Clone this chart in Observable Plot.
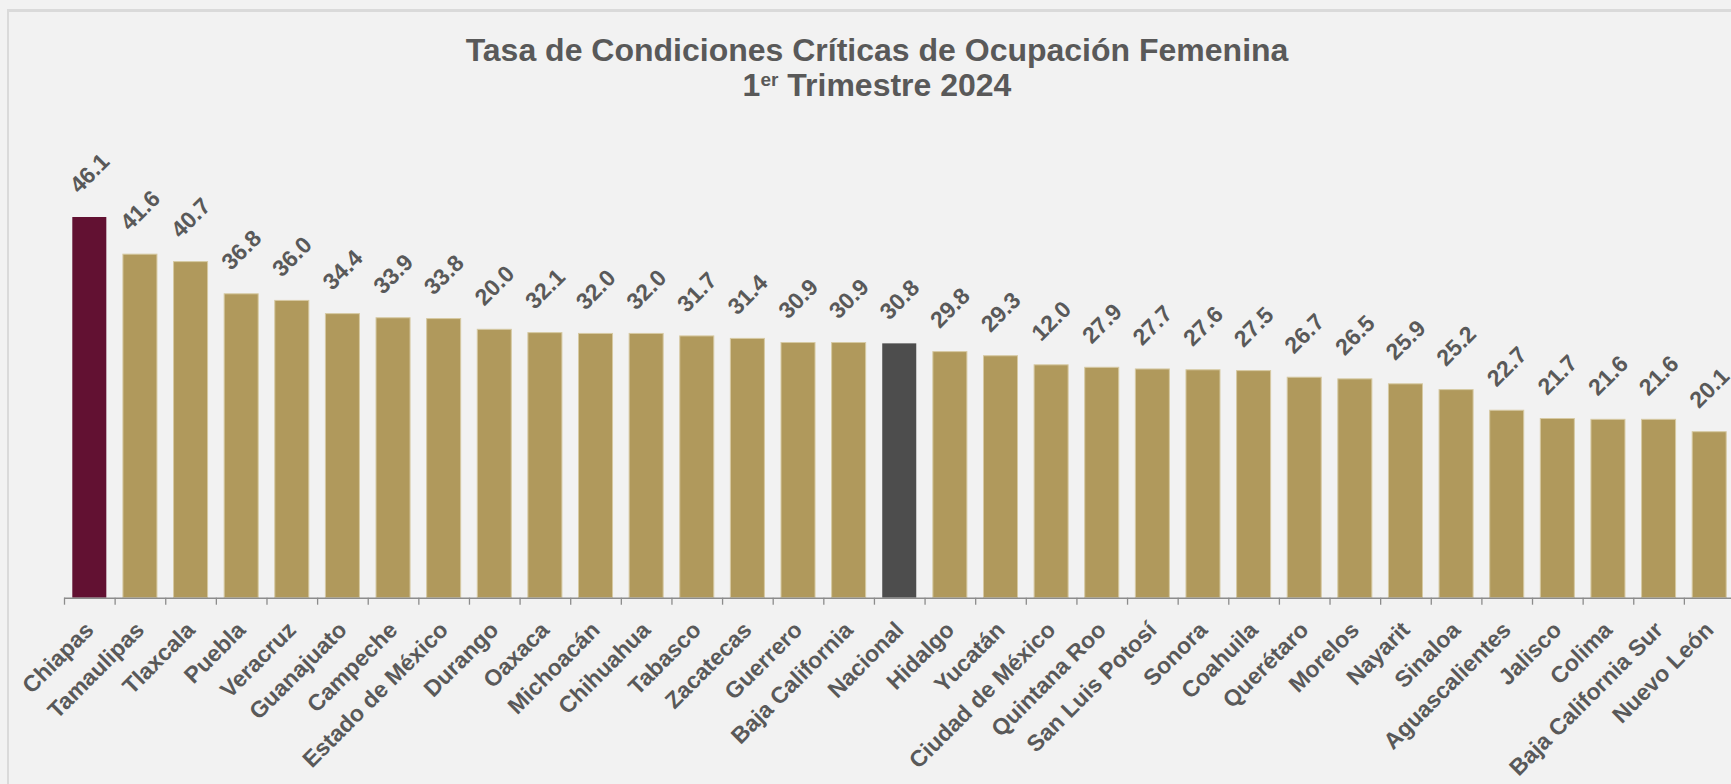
<!DOCTYPE html>
<html>
<head>
<meta charset="utf-8">
<script src="https://cdn.jsdelivr.net/npm/d3@7"></script>
<script src="https://cdn.jsdelivr.net/npm/@observablehq/plot@0.6"></script>
<style>
  html, body { margin: 0; padding: 0; background: #f2f2f2; overflow: hidden; }
  body { width: 1731px; height: 784px; position: relative; font-family: "Liberation Sans", Arial, sans-serif; }
  #frame { position: absolute; left: 7px; top: 9px; right: -10px; bottom: -10px; border-left: 2px solid #dadada; border-top: 3px solid #dadada; }
  #title { position: absolute; left: 22px; width: 1710px; top: 0; text-align: center; color: #595959; font-weight: bold; font-size: 32px; line-height: 35.6px; padding-top: 32.6px; }
  #title .sup { font-size: 19px; position: relative; top: -10px; }
  #chart { position: absolute; left: 0; top: 130px; width: 1731px; }
</style>
</head>
<body>
<div id="frame"></div>
<div id="title">
  <div>Tasa de Condiciones Críticas de Ocupación Femenina</div>
  <div>1<span class="sup">er</span> Trimestre 2024</div>
</div>
<div id="chart"></div>
<script>
const categories = ["Chiapas", "Tamaulipas", "Tlaxcala", "Puebla", "Veracruz", "Guanajuato", "Campeche", "Estado de México", "Durango", "Oaxaca", "Michoacán", "Chihuahua", "Tabasco", "Zacatecas", "Guerrero", "Baja California", "Nacional", "Hidalgo", "Yucatán", "Ciudad de México", "Quintana Roo", "San Luis Potosí", "Sonora", "Coahuila", "Querétaro", "Morelos", "Nayarit", "Sinaloa", "Aguascalientes", "Jalisco", "Colima", "Baja California Sur", "Nuevo León"];
const values = [46.1, 41.6, 40.7, 36.8, 36.0, 34.4, 33.9, 33.8, 32.5, 32.1, 32.0, 32.0, 31.7, 31.4, 30.9, 30.9, 30.8, 29.8, 29.3, 28.2, 27.9, 27.7, 27.6, 27.5, 26.7, 26.5, 25.9, 25.2, 22.7, 21.7, 21.6, 21.6, 20.1];
const valueLabels = ["46.1", "41.6", "40.7", "36.8", "36.0", "34.4", "33.9", "33.8", "20.0", "32.1", "32.0", "32.0", "31.7", "31.4", "30.9", "30.9", "30.8", "29.8", "29.3", "12.0", "27.9", "27.7", "27.6", "27.5", "26.7", "26.5", "25.9", "25.2", "22.7", "21.7", "21.6", "21.6", "20.1"];
const highlightState = "Chiapas";
const nationalName = "Nacional";

const colorGold = "#B0995C";
const colorGuinda = "#621132";
const colorNational = "#4D4D4D";
const textColor = "#595959";
const axisColor = "#8C8C8C";

const data = categories.map((c, i) => ({name: c, value: values[i], label: valueLabels[i]}));
const fillOf = d => d.name === highlightState ? colorGuinda : d.name === nationalName ? colorNational : colorGold;
const strokeOf = d => d.name === highlightState || d.name === nationalName ? "none" : "#D6C9A2";

const W = 1731, H = 654, mL = 64, mR = -3.5;
const step = (W - mL - mR) / categories.length;

const chart = Plot.plot({
  width: W,
  height: H,
  marginLeft: mL,
  marginRight: mR,
  marginTop: 54.8,
  marginBottom: 186.3,
  style: {background: "transparent", overflow: "visible", fontFamily: "'Liberation Sans', Arial, sans-serif", maxWidth: "none"},
  x: {domain: categories, paddingInner: 0.328, paddingOuter: 0.164, round: false, axis: null, label: null},
  y: {domain: [0, 50], axis: null},
  marks: [
    Plot.barY(data, {x: "name", y: "value", fill: fillOf, stroke: strokeOf, strokeWidth: 1}),
    Plot.ruleY([0], {stroke: axisColor, strokeWidth: 1.5}),
    Plot.axisX({tickSize: 7, tickFormat: () => "", label: null, stroke: axisColor, strokeWidth: 1.3, dx: -step / 2}),
    Plot.axisX({tickSize: 0, tickPadding: 28, tickRotate: -45, textAnchor: "end", lineAnchor: "middle", label: null,
      fontSize: 23, fontWeight: "bold", fill: textColor}),
    Plot.text(data, {x: "name", y: "value", text: "label", rotate: -45, dy: -44,
      textAnchor: "middle", lineAnchor: "middle", fontSize: 23, fontWeight: "bold", fill: textColor})
  ]
});
document.getElementById("chart").appendChild(chart);
</script>
</body>
</html>
